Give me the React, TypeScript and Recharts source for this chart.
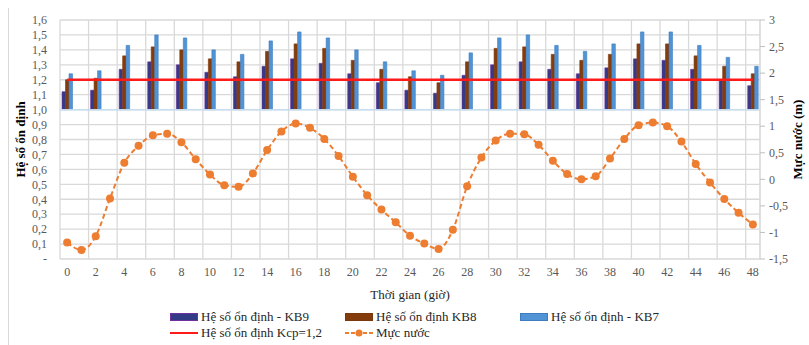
import React from "react";
import {
  ComposedChart,
  Bar,
  Line,
  XAxis,
  YAxis,
  CartesianGrid,
  ReferenceLine,
} from "recharts";

// thời gian (giờ)
const hours = [
  0, 1, 2, 3, 4, 5, 6, 7, 8, 9, 10, 11, 12, 13, 14, 15, 16, 17, 18, 19, 20, 21, 22, 23, 24,
  25, 26, 27, 28, 29, 30, 31, 32, 33, 34, 35, 36, 37, 38, 39, 40, 41, 42, 43, 44, 45, 46, 47, 48,
];

// mực nước (m), mỗi giờ
const waterLevel = [
  -1.19, -1.33, -1.07, -0.36, 0.31, 0.63, 0.83, 0.86, 0.7, 0.38, 0.09, -0.11, -0.14, 0.11,
  0.55, 0.9, 1.05, 0.97, 0.76, 0.44, 0.05, -0.3, -0.57, -0.81, -1.06, -1.21, -1.31, -0.95,
  -0.13, 0.41, 0.73, 0.86, 0.85, 0.65, 0.35, 0.1, 0.0, 0.06, 0.39, 0.76, 1.02, 1.07, 1.0,
  0.71, 0.29, -0.06, -0.37, -0.63, -0.85,
];

// hệ số ổn định, mỗi 2 giờ
const barHours = [0, 2, 4, 6, 8, 10, 12, 14, 16, 18, 20, 22, 24, 26, 28, 30, 32, 34, 36, 38, 40, 42, 44, 46, 48];
const kb9 = [
  1.12, 1.13, 1.27, 1.32, 1.3, 1.25, 1.22, 1.29, 1.34, 1.31, 1.24, 1.18, 1.13, 1.11, 1.23,
  1.3, 1.32, 1.27, 1.24, 1.28, 1.34, 1.33, 1.27, 1.2, 1.16,
];
const kb8 = [
  1.2, 1.21, 1.36, 1.42, 1.4, 1.34, 1.32, 1.39, 1.44, 1.41, 1.33, 1.27, 1.22, 1.18, 1.32,
  1.41, 1.42, 1.37, 1.33, 1.37, 1.44, 1.44, 1.36, 1.29, 1.24,
];
const kb7 = [
  1.24, 1.26, 1.43, 1.5, 1.48, 1.4, 1.37, 1.46, 1.52, 1.48, 1.4, 1.32, 1.26, 1.23, 1.38,
  1.48, 1.5, 1.43, 1.39, 1.44, 1.52, 1.52, 1.43, 1.35, 1.29,
];
const kcp = 1.2;
const barBase = 1.0;

const leftTicks = [0, 0.1, 0.2, 0.3, 0.4, 0.5, 0.6, 0.7, 0.8, 0.9, 1.0, 1.1, 1.2, 1.3, 1.4, 1.5, 1.6];
const rightTicks = [-1.5, -1, -0.5, 0, 0.5, 1, 1.5, 2, 2.5, 3];

const data = hours.map((h, idx) => {
  const i = barHours.indexOf(h);
  return {
    hour: h,
    kb9: i >= 0 ? [barBase, kb9[i]] : null,
    kb8: i >= 0 ? [barBase, kb8[i]] : null,
    kb7: i >= 0 ? [barBase, kb7[i]] : null,
    kcp,
    water: waterLevel[idx],
  };
});

const FONT = "Liberation Serif, serif";
const tickStyle = { fontSize: 12, fill: "#595959", fontFamily: FONT };

const leftFmt = (v: number) => (v === 0 ? "-" : v.toFixed(1).replace(".", ","));
const rightFmt = (v: number) => String(v).replace(".", ",");

// đường lưới dọc nằm giữa các nhóm cột (mỗi 2 giờ)
const gridX = ({ offset }: any) => {
  const step = offset.width / hours.length;
  const pts = hours.filter((h) => h % 2 === 0).map((_, k) => offset.left + 2 * k * step);
  pts.push(offset.left + offset.width);
  return pts;
};

const legendText: React.CSSProperties = {
  fontFamily: FONT,
  fontSize: 13,
  color: "#262626",
  whiteSpace: "nowrap",
};

function Swatch({ fill, stroke }: { fill: string; stroke: string }) {
  return (
    <span
      style={{
        display: "inline-block",
        width: 26,
        height: 6,
        background: fill,
        border: `1px solid ${stroke}`,
        marginRight: 3,
      }}
    />
  );
}

function LegendItem({ icon, label }: { icon: React.ReactNode; label: string }) {
  return (
    <div style={{ display: "flex", alignItems: "center", height: 16 }}>
      {icon}
      <span style={legendText}>{label}</span>
    </div>
  );
}

export default function App() {
  return (
    <div
      style={{
        position: "absolute",
        left: 0,
        top: 0,
        width: 809,
        height: 345,
        background: "#fff",
        overflow: "hidden",
        fontFamily: FONT,
      }}
    >
      <div
        style={{
          position: "absolute",
          left: 8,
          top: 8,
          height: 345,
          borderLeft: "1px solid #D9D9D9",
        }}
      />
      <ComposedChart
        width={809}
        height={345}
        data={data}
        margin={{ top: 20, right: 0, bottom: 42, left: 0 }}
        barGap={0}
        style={{ fontFamily: FONT }}
      >
        <CartesianGrid
          yAxisId="left"
          stroke="#D9D9D9"
          strokeWidth={1.3}
          verticalCoordinatesGenerator={gridX}
        />
        <XAxis
          dataKey="hour"
          interval={1}
          height={44}
          tickLine={false}
          axisLine={false}
          tickSize={0}
          tickMargin={8}
          tick={tickStyle}
          label={{
            value: "Thời gian (giờ)",
            position: "insideBottom",
            offset: 4,
            style: { fontSize: 13, fill: "#262626", fontFamily: FONT },
          }}
        />
        <YAxis
          yAxisId="left"
          domain={[0, 1.6]}
          ticks={leftTicks}
          tickFormatter={leftFmt}
          width={60}
          axisLine={false}
          tickLine={false}
          tickSize={0}
          tickMargin={13}
          tick={tickStyle}
          interval={0}
          label={{
            value: "Hệ số ổn định",
            angle: -90,
            position: "insideLeft",
            offset: 20,
            style: { fontSize: 13, fontWeight: "bold", fill: "#000", fontFamily: FONT, textAnchor: "middle" },
          }}
        />
        <YAxis
          yAxisId="right"
          orientation="right"
          domain={[-1.5, 3]}
          ticks={rightTicks}
          tickFormatter={rightFmt}
          width={49}
          axisLine={{ stroke: "#D9D9D9" }}
          tickLine={{ stroke: "#BFBFBF" }}
          tickSize={5}
          tickMargin={4}
          tick={tickStyle}
          interval={0}
          label={{
            value: "Mực nước (m)",
            angle: -90,
            position: "insideRight",
            offset: 12,
            style: { fontSize: 13, fontWeight: "bold", fill: "#000", fontFamily: FONT, textAnchor: "middle" },
          }}
        />
        <ReferenceLine yAxisId="left" y={barBase} stroke="#C5DBF0" strokeWidth={1.5} />
        <Bar
          yAxisId="left"
          dataKey="kb9"
          barSize={3.5}
          fill="#333B86"
          stroke="#7030A0"
          strokeWidth={0.6}
          isAnimationActive={false}
        />
        <Bar
          yAxisId="left"
          dataKey="kb8"
          barSize={3.5}
          fill="#843C0C"
          stroke="#7A380B"
          strokeWidth={0.6}
          isAnimationActive={false}
        />
        <Bar
          yAxisId="left"
          dataKey="kb7"
          barSize={3.5}
          fill="#5094D6"
          stroke="#3E7CC0"
          strokeWidth={0.6}
          isAnimationActive={false}
        />
        <Line
          yAxisId="left"
          dataKey="kcp"
          stroke="#FF1A1A"
          strokeWidth={2.5}
          dot={false}
          activeDot={false}
          isAnimationActive={false}
        />
        <Line
          yAxisId="right"
          dataKey="water"
          type="monotone"
          stroke="#ED7D31"
          strokeWidth={2}
          strokeDasharray="5 3"
          dot={{ r: 4, fill: "#ED7D31", stroke: "#ED7D31", strokeWidth: 0 }}
          activeDot={false}
          isAnimationActive={false}
        />
      </ComposedChart>
      <div
        style={{
          position: "absolute",
          left: 170,
          top: 309,
          display: "grid",
          gridTemplateColumns: "175px 175px 175px",
          rowGap: 0,
        }}
      >
        <LegendItem icon={<Swatch fill="#333B86" stroke="#7030A0" />} label="Hệ số ổn định - KB9" />
        <LegendItem icon={<Swatch fill="#843C0C" stroke="#7A380B" />} label="Hệ số ổn định KB8" />
        <LegendItem icon={<Swatch fill="#5094D6" stroke="#3E7CC0" />} label="Hệ số ổn định - KB7" />
        <LegendItem
          icon={
            <svg width={28} height={10} style={{ marginRight: 3 }}>
              <line x1={0} y1={5} x2={28} y2={5} stroke="#FF1A1A" strokeWidth={2} />
            </svg>
          }
          label="Hệ số ổn định Kcp=1,2"
        />
        <LegendItem
          icon={
            <svg width={28} height={10} style={{ marginRight: 3 }}>
              <line x1={0} y1={5} x2={28} y2={5} stroke="#ED7D31" strokeWidth={2} strokeDasharray="4 2" />
              <circle cx={14} cy={5} r={3.5} fill="#ED7D31" />
            </svg>
          }
          label="Mực nước"
        />
      </div>
    </div>
  );
}
